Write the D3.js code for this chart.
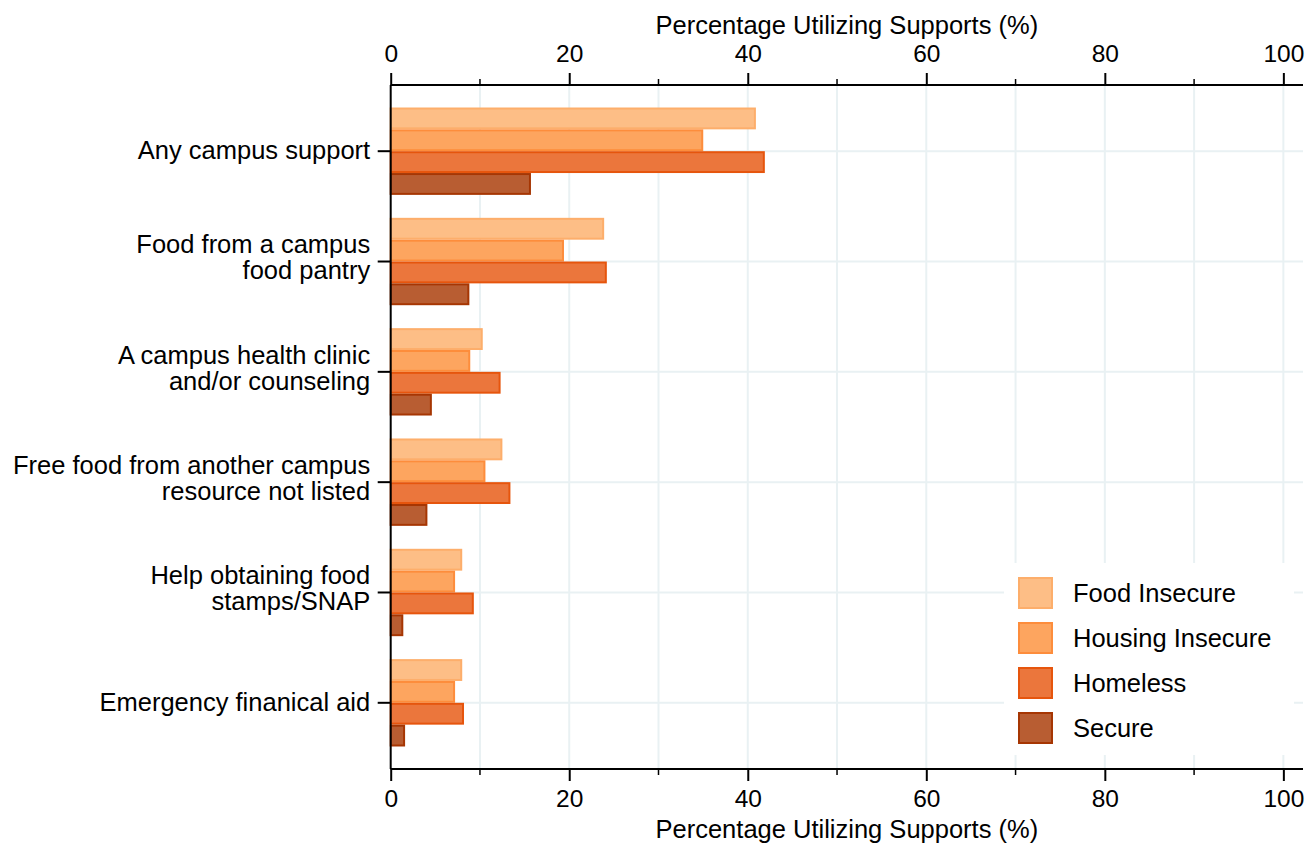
<!DOCTYPE html>
<html><head><meta charset="utf-8">
<script src="https://cdn.jsdelivr.net/npm/d3@7"></script>
<style>body{margin:0;background:#fff;} text{font-family:"Liberation Sans",Arial,Helvetica,sans-serif;fill:#000;}</style>
</head><body>
<svg id="c" width="1315" height="844"></svg>
<script>
const categories = [
  ["Any campus support"],
  ["Food from a campus", "food pantry"],
  ["A campus health clinic", "and/or counseling"],
  ["Free food from another campus", "resource not listed"],
  ["Help obtaining food", "stamps/SNAP"],
  ["Emergency finanical aid"]
];
const seriesNames = ["Food Insecure", "Housing Insecure", "Homeless", "Secure"];
const foodInsecure    = [40.8, 23.8, 10.2, 12.4, 7.9, 7.9];
const housingInsecure = [34.9, 19.3, 8.8, 10.5, 7.1, 7.1];
const homeless        = [41.8, 24.1, 12.2, 13.3, 9.2, 8.1];
const secure          = [15.6, 8.7, 4.5, 4.0, 1.3, 1.5];
const majorTicks = [0, 20, 40, 60, 80, 100];
const minorTicks = [10, 30, 50, 70, 90];
const axisTitle = "Percentage Utilizing Supports (%)";

const series = [foodInsecure, housingInsecure, homeless, secure];
const fills   = ["#fdbe86", "#fda55f", "#eb763c", "#b85d32"];
const strokes = ["#fdae6b", "#fd8d3c", "#e6550d", "#a63603"];

const FS = "25.5px";
const svg = d3.select("#c");
const L = 390.7, R = 1303, T = 85, B = 769;
const x = d3.scaleLinear().domain([0, 102.2]).range([L, R]);
const y = d3.scalePoint().domain(d3.range(categories.length)).range([T, B]).padding(0.6);
const step = y.step();
const inner = d3.scaleBand().domain(d3.range(4)).range([-step*0.396, step*0.396]);

// gridlines
const grid = svg.append("g");
grid.selectAll("line.v").data(majorTicks.concat(minorTicks).filter(d=>d>0)).join("line")
  .attr("x1", d=>x(d)).attr("x2", d=>x(d)).attr("y1", T).attr("y2", B)
  .attr("stroke", "#e9f1f3").attr("stroke-width", 2);
grid.selectAll("line.h").data(d3.range(categories.length)).join("line")
  .attr("x1", L).attr("x2", R).attr("y1", d=>y(d)).attr("y2", d=>y(d))
  .attr("stroke", "#e9f1f3").attr("stroke-width", 2);

// bars
const gBars = svg.append("g");
series.forEach((s, si) => {
  gBars.selectAll("rect.s"+si).data(s).join("rect")
    .attr("x", x(0)).attr("y", (d,i)=>y(i)+inner(si)+1)
    .attr("width", d=>x(d)-x(0)).attr("height", inner.bandwidth()-2)
    .attr("fill", fills[si]).attr("stroke", strokes[si]).attr("stroke-width", 2);
});

// axes
const topAxis = d3.axisTop(x).tickValues(majorTicks).tickSize(12).tickPadding(11).tickFormat(d3.format("d"));
const botAxis = d3.axisBottom(x).tickValues(majorTicks).tickSize(12).tickPadding(9).tickFormat(d3.format("d"));
function styleAxis(g){
  g.select(".domain").attr("stroke", "#000").attr("stroke-width", 2);
  g.selectAll(".tick line").attr("stroke", "#000").attr("stroke-width", 2);
  g.selectAll(".tick text").style("font-size", "24.5px").attr("fill", "#000");
}
const gt = svg.append("g").attr("transform", `translate(0,${T})`).call(topAxis).call(styleAxis);
const gb = svg.append("g").attr("transform", `translate(0,${B})`).call(botAxis).call(styleAxis);
gt.select(".domain").attr("d", `M${L},0H${R}`);
gb.select(".domain").attr("d", `M${L},0H${R}`);
// minor ticks
[[T,-1],[B,1]].forEach(([yy,dir])=>{
  svg.append("g").selectAll("line").data(minorTicks).join("line")
    .attr("x1", d=>x(d)).attr("x2", d=>x(d)).attr("y1", yy).attr("y2", yy+dir*6)
    .attr("stroke", "#000").attr("stroke-width", 1.5);
});

// left axis
const gl = svg.append("g");
gl.append("line").attr("x1", L).attr("x2", L).attr("y1", T).attr("y2", B).attr("stroke", "#000").attr("stroke-width", 2);
gl.selectAll("line.t").data(d3.range(categories.length)).join("line")
  .attr("x1", L-13).attr("x2", L).attr("y1", d=>y(d)).attr("y2", d=>y(d))
  .attr("stroke", "#000").attr("stroke-width", 2);
const lh = 26;
gl.selectAll("text").data(categories).join("text")
  .attr("text-anchor", "end").style("font-size", FS)
  .attr("transform", (d,i)=>`translate(${L-20.5},${y(i) - (d.length-1)*lh/2 - (d.length>1?4:1)})`)
  .each(function(d){
    d3.select(this).selectAll("tspan").data(d).join("tspan")
      .attr("x", 0).attr("dy", (t,j)=> j===0 ? "0.35em" : lh).text(t=>t);
  });

// axis titles
const cx = (L + R) / 2;
svg.append("text").attr("x", cx).attr("y", 34.3).attr("text-anchor", "middle").style("font-size", FS).text(axisTitle);
svg.append("text").attr("x", cx).attr("y", 838).attr("text-anchor", "middle").style("font-size", FS).text(axisTitle);

// legend
const lg = svg.append("g");
lg.append("rect").attr("x", 1004).attr("y", 563).attr("width", 290).attr("height", 192).attr("fill", "#fff");
seriesNames.forEach((n, i) => {
  const yy = 577 + i*45;
  lg.append("rect").attr("x", 1019).attr("y", yy+1).attr("width", 33).attr("height", 30)
    .attr("fill", fills[i]).attr("stroke", strokes[i]).attr("stroke-width", 2);
  lg.append("text").attr("x", 1073).attr("y", yy + 16).attr("dy", "0.35em").style("font-size", FS).text(n);
});
</script>
</body></html>
